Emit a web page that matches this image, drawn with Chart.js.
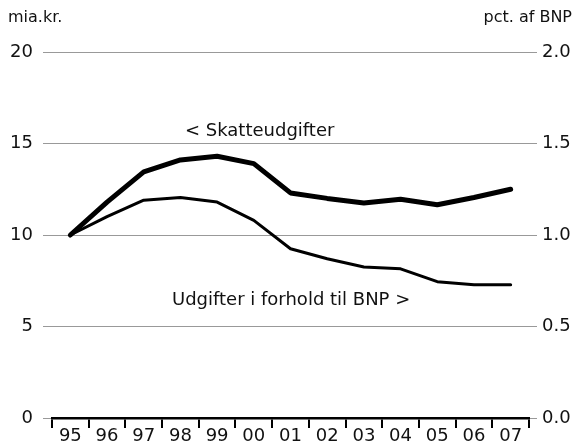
<!DOCTYPE html>
<html>
<head>
<meta charset="utf-8">
<script src="https://cdn.jsdelivr.net/npm/chart.js@4/dist/chart.umd.min.js"></script>
<style>
  html, body { margin: 0; padding: 0; background: #fff; }
  #wrap { position: relative; width: 575px; height: 447px; }
  canvas { position: absolute; left: 0; top: 0; }
  .lbl { position: absolute; font-family: "DejaVu Sans", Verdana, sans-serif; color: #111; white-space: nowrap; line-height: 20px; }
</style>
</head>
<body>
<div id="wrap">
  <canvas id="c" width="575" height="447"></canvas>
  <div class="lbl" style="left:8px; top:7px; font-size:16px;">mia.kr.</div>
  <div class="lbl" style="right:3px; top:7px; font-size:16px;">pct. af BNP</div>
  <div class="lbl" style="left:185px; top:120px; font-size:18px;">&lt; Skatteudgifter</div>
  <div class="lbl" style="left:172px; top:289px; font-size:18px;">Udgifter i forhold til BNP &gt;</div>
</div>
<script>
const categories = ["95","96","97","98","99","00","01","02","03","04","05","06","07"];
// Skatteudgifter, mia.kr. (left axis)
const skatteudgifter = [10.0, 11.8, 13.45, 14.1, 14.3, 13.9, 12.3, 12.0, 11.75, 11.95, 11.65, 12.05, 12.5];
// Udgifter i forhold til BNP, pct. (right axis)
const udgifterPctBNP = [1.0, 1.1, 1.19, 1.205, 1.18, 1.08, 0.925, 0.87, 0.825, 0.815, 0.745, 0.728, 0.728];
const leftTicks = [0, 5, 10, 15, 20];
const rightTicks = [0.0, 0.5, 1.0, 1.5, 2.0];

const FONT = { family: '"DejaVu Sans", Verdana, sans-serif', size: 18 };

new Chart(document.getElementById('c'), {
  type: 'line',
  data: {
    labels: categories,
    datasets: [
      { label: 'Skatteudgifter', data: skatteudgifter, yAxisID: 'yL',
        borderColor: '#000', borderWidth: 5, pointRadius: 0, tension: 0, fill: false,
        borderJoinStyle: 'round', borderCapStyle: 'round' },
      { label: 'Udgifter i forhold til BNP', data: udgifterPctBNP, yAxisID: 'yR',
        borderColor: '#000', borderWidth: 3, pointRadius: 0, tension: 0, fill: false,
        borderJoinStyle: 'round', borderCapStyle: 'round' }
    ]
  },
  options: {
    responsive: false,
    animation: false,
    layout: { padding: { top: 52, left: 0, right: 0, bottom: 0 } },
    plugins: { legend: { display: false }, tooltip: { enabled: false } },
    scales: {
      x: {
        type: 'category',
        offset: true,
        grid: { display: true, drawOnChartArea: false, drawTicks: true, tickLength: 10,
                color: '#000', lineWidth: 2, offset: true },
        border: { display: true, color: '#000', width: 2.5 },
        ticks: { color: '#111', font: FONT, padding: -2, maxRotation: 0, autoSkip: false },
        afterFit: s => { s.height = 29; }
      },
      yL: {
        position: 'left', min: 0, max: 20,
        afterBuildTicks: s => { s.ticks = leftTicks.map(v => ({ value: v })); },
        grid: { color: '#999', lineWidth: 1, drawTicks: true, tickLength: 9 },
        border: { display: false },
        ticks: { color: '#111', font: FONT, padding: 10, callback: v => String(v) },
        afterFit: s => { s.width = 52; }
      },
      yR: {
        position: 'right', min: 0, max: 2,
        afterBuildTicks: s => { s.ticks = rightTicks.map(v => ({ value: v })); },
        grid: { drawOnChartArea: false, color: '#999', lineWidth: 1, drawTicks: true, tickLength: 8 },
        border: { display: false },
        ticks: { color: '#111', font: FONT, padding: 5, callback: v => Number(v).toFixed(1) },
        afterFit: s => { s.width = 46; }
      }
    }
  }
});
</script>
</body>
</html>
